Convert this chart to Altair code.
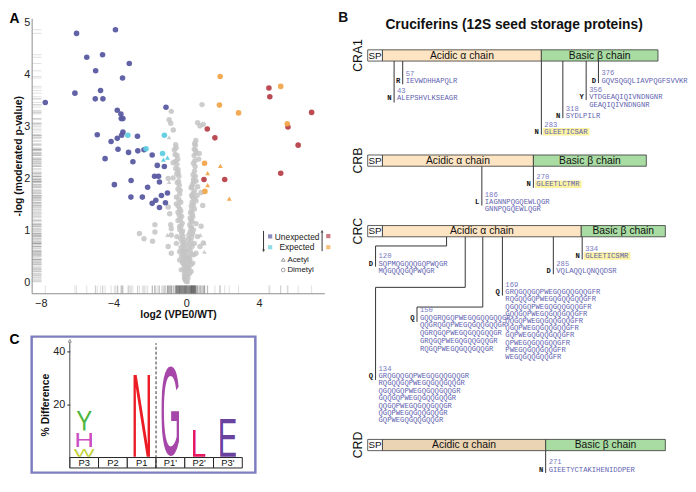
import base64
import altair as alt
import pandas as pd

SANS = "Liberation Sans"
MONO = "Liberation Mono"

# ===================== Panel A: volcano plot =====================
# (log2 VPE0/WT, -log moderated p-value)
unexpected_down = [
    (-6.03, 4.80), (-3.89, 4.87), (-5.47, 4.34), (-4.60, 4.39), (-3.13, 4.22),
    (-4.98, 4.08), (-3.50, 3.94), (-6.12, 3.65), (-4.71, 3.70), (-5.00, 3.54),
    (-4.58, 3.54), (-7.75, 3.47), (-3.79, 3.32), (-3.59, 3.25), (-3.57, 3.16),
    (-3.48, 3.16), (-1.11, 3.38), (-4.89, 2.85), (-3.48, 2.90), (-3.55, 2.84),
    (-3.79, 2.78), (-2.68, 2.82), (-4.13, 2.72), (-3.75, 2.57), (-4.46, 2.39),
    (-3.17, 2.51), (-2.93, 2.33), (-2.66, 2.54), (-2.32, 2.56), (-1.87, 2.46),
    (-1.59, 2.26), (-1.20, 2.24), (-1.74, 2.05), (-1.52, 2.05), (-1.47, 1.94),
    (-3.03, 1.97), (-3.95, 1.89), (-2.12, 1.84), (-3.04, 1.65), (-2.41, 1.65),
    (-1.67, 1.59), (-1.87, 1.53), (-1.36, 1.68), (-1.03, 1.73), (-1.47, 1.45),
    (-1.14, 1.54),
]
expected_down_dimethyl = [(-3.21, 2.84), (-2.21, 2.58), (-1.20, 2.84), (-1.30, 2.49)]
expected_down_acetyl = [(-1.25, 2.37), (-1.03, 2.41)]
unexpected_up = [
    (4.55, 3.75), (4.60, 3.58), (6.90, 3.28), (1.16, 2.96), (1.58, 2.79),
    (5.60, 3.00), (6.16, 2.65), (5.20, 2.11), (0.98, 1.99), (2.12, 1.99),
]
expected_up_dimethyl = [(1.87, 3.97), (5.20, 3.78), (1.83, 3.42), (2.88, 3.27),
                        (5.56, 3.06), (1.01, 2.30), (1.03, 1.76)]
expected_up_acetyl = [(1.88, 2.25), (1.18, 2.11), (1.18, 1.88), (2.37, 1.62)]
unchanged_acetyl = [(-0.94, 2.80), (-0.94, 1.94), (0.78, 0.92), (1.00, 0.76),
                    (1.00, 0.60), (-1.03, 0.92)]
unchanged_dimethyl = [
    (-0.82, 3.30), (-0.94, 3.14), (-0.85, 3.07), (-0.71, 2.94), (0.87, 3.43), (0.63, 3.08),
    (0.76, 3.02), (0.94, 3.05), (0.53, 2.74), (0.47, 2.68), (-0.58, 2.66), (-0.65, 2.56),
    (-0.61, 2.47), (0.45, 2.57), (0.54, 2.50), (0.72, 2.49), (0.69, 2.38), (0.49, 2.24),
    (-0.58, 2.34), (-0.51, 2.28), (-0.58, 2.20), (-0.99, 2.01), (-0.72, 2.02), (-0.49, 1.93),
    (0.40, 1.99), (0.54, 1.96), (0.36, 1.90), (0.63, 1.85), (0.27, 1.83), (0.45, 1.77),
    (-0.36, 1.71), (-0.54, 1.65), (0.60, 1.68), (0.82, 1.74), (-0.54, 1.52), (-0.99, 1.46),
    (-0.91, 1.33), (-0.45, 1.36), (0.36, 1.65), (0.54, 1.58), (0.45, 1.42), (0.91, 1.49),
    (0.36, 1.27), (0.54, 1.14), (0.82, 1.09), (-0.85, 1.12), (-0.82, 1.04), (-1.72, 1.12),
    (-1.72, 0.98), (-2.57, 0.95), (-2.32, 0.85), (-1.85, 0.80), (-0.82, 0.92), (-0.51, 0.89),
    (-0.99, 0.70), (-0.82, 0.57), (-0.54, 0.76), (-0.36, 0.44), (-0.27, 0.25), (-0.09, 0.09),
    (0.00, 0.03), (0.27, 0.22), (0.36, 0.38), (0.54, 0.57), (0.45, 0.76), (0.36, 0.95),
    (0.63, 0.89), (0.76, 0.70), (0.42, 0.54), (0.18, 0.44), (-0.18, 0.38), (-0.36, 0.60),
    (-0.15, 0.54), (0.09, 0.32), (-0.04, 0.19), (0.27, 1.08), (-0.36, 1.08), (-0.45, 1.20),
    (0.27, 1.20), (0.94, 0.77), (-0.72, 2.31), (-0.45, 2.18),
    (-0.55, 2.60), (-0.50, 2.45), (-0.47, 2.38), (-0.44, 2.12), (-0.40, 2.05), (-0.52, 2.10),
    (-0.42, 1.95), (-0.38, 1.88), (-0.45, 1.80), (-0.33, 1.78), (-0.40, 1.60), (-0.30, 1.55),
    (-0.44, 1.48), (-0.35, 1.42), (-0.30, 1.38), (-0.38, 1.30), (-0.25, 1.28), (-0.32, 1.22),
    (-0.22, 1.15), (-0.28, 1.10), (-0.35, 1.02), (-0.20, 1.00), (-0.25, 0.95), (-0.18, 0.90),
    (-0.30, 0.85), (-0.12, 0.82), (-0.22, 0.78), (-0.15, 0.72), (-0.28, 0.68), (-0.10, 0.65),
    (-0.20, 0.62), (-0.08, 0.58), (-0.25, 0.52), (-0.12, 0.50), (-0.15, 0.45), (-0.05, 0.42),
    (-0.20, 0.40), (-0.10, 0.35), (-0.02, 0.30), (-0.12, 0.28), (-0.06, 0.22), (-0.10, 0.15),
    (-0.03, 0.12), (-0.05, 0.06),
    (0.50, 2.65), (0.52, 2.55), (0.44, 2.45), (0.48, 2.35), (0.40, 2.30), (0.46, 2.15),
    (0.38, 2.08), (0.50, 2.05), (0.42, 1.95), (0.32, 1.85), (0.38, 1.72), (0.30, 1.68),
    (0.42, 1.62), (0.33, 1.55), (0.28, 1.48), (0.40, 1.50), (0.30, 1.40), (0.24, 1.35),
    (0.35, 1.32), (0.22, 1.25), (0.32, 1.18), (0.20, 1.12), (0.28, 1.05), (0.40, 1.02),
    (0.22, 0.98), (0.15, 0.92), (0.30, 0.88), (0.12, 0.84), (0.25, 0.80), (0.18, 0.74),
    (0.32, 0.70), (0.10, 0.66), (0.22, 0.62), (0.28, 0.55), (0.14, 0.52), (0.06, 0.48),
    (0.20, 0.46), (0.12, 0.40), (0.25, 0.35), (0.05, 0.36), (0.15, 0.28), (0.08, 0.25),
    (0.18, 0.18), (0.04, 0.15), (0.10, 0.10), (0.02, 0.05), (0.06, 0.02),
    (0.00, 0.45), (0.02, 0.60), (-0.02, 0.75), (0.00, 0.25), (-0.01, 0.15),
]

rows = []
for pts, grp, lab in [
    (unchanged_dimethyl, "Unchanged", "Dimetyl"), (unchanged_acetyl, "Unchanged", "Acetyl"),
    (unexpected_down, "Unexpected down", "Dimetyl"),
    (expected_down_dimethyl, "Expected down", "Dimetyl"), (expected_down_acetyl, "Expected down", "Acetyl"),
    (unexpected_up, "Unexpected up", "Dimetyl"),
    (expected_up_dimethyl, "Expected up", "Dimetyl"), (expected_up_acetyl, "Expected up", "Acetyl"),
]:
    for x, y in pts:
        rows.append({"x": x, "y": y, "group": grp, "label": lab})
dfA = pd.DataFrame(rows)

grp_dom = ["Unchanged", "Unexpected down", "Expected down", "Unexpected up", "Expected up"]
grp_rng = ["#c4c4c4", "#5a5aa2", "#5fcde0", "#b8424b", "#f2a54b"]

axA_x = alt.Axis(values=[-8, -4, 0, 4], title="log2 (VPE0/WT)", grid=False, ticks=False,
                 domainColor="#8c8c8c", labelFont=SANS, labelFontSize=11, labelColor="#222",
                 labelPadding=4, titleFont=SANS, titleFontSize=10.5, titleFontWeight="bold",
                 titleColor="#111", titlePadding=2)
axA_y = alt.Axis(values=[0, 1, 2, 3, 4, 5], title="-log (moderated p-value)", grid=False, ticks=False,
                 domainColor="#8c8c8c", labelFont=SANS, labelFontSize=11, labelColor="#222",
                 labelPadding=2, titleFont=SANS, titleFontSize=10.5, titleFontWeight="bold",
                 titleColor="#111", titlePadding=0)
xA = alt.X("x:Q", scale=alt.Scale(domain=[-8.5, 7.6], nice=False, zero=False), axis=axA_x)
yA = alt.Y("y:Q", scale=alt.Scale(domain=[-0.2, 5.09], nice=False, zero=False), axis=axA_y)
cA = alt.Color("group:N", scale=alt.Scale(domain=grp_dom, range=grp_rng), legend=None)


def pts_layer(expr, shape, size, opacity):
    return alt.Chart(dfA).transform_filter(expr).mark_point(
        shape=shape, filled=True, size=size, opacity=opacity, strokeWidth=0
    ).encode(x=xA, y=yA, color=cA)


def vtext(t, x, y, **kw):
    return alt.Chart(pd.DataFrame({"t": [t]})).mark_text(**kw).encode(
        x=alt.value(x), y=alt.value(y), text="t:N")


def vpoint(x, y, **kw):
    return alt.Chart(pd.DataFrame({"k": [0]})).mark_point(**kw).encode(x=alt.value(x), y=alt.value(y))


layersA = [
    pts_layer("datum.group == 'Unchanged' && datum.label == 'Dimetyl'", "circle", 30, 0.85),
    pts_layer("datum.group == 'Unchanged' && datum.label == 'Acetyl'", "triangle-up", 22, 0.85),
    alt.Chart(dfA).mark_tick(orient="horizontal", size=9, thickness=1, color="#555", opacity=0.18)
    .encode(y=yA, x=alt.value(5.5)),
    alt.Chart(dfA).mark_tick(orient="vertical", size=8, thickness=1, color="#555", opacity=0.18)
    .encode(x=xA, y=alt.value(275)),
    pts_layer("datum.group != 'Unchanged' && datum.label == 'Dimetyl'", "circle", 32, 0.95),
    pts_layer("datum.group != 'Unchanged' && datum.label == 'Acetyl'", "triangle-up", 24, 0.95),
    # legend
    alt.Chart(pd.DataFrame({"k": [0]})).mark_rule(color="#333", strokeWidth=1)
    .encode(x=alt.value(235.3), y=alt.value(215.7), y2=alt.value(235.5)),
    alt.Chart(pd.DataFrame({"k": [0]})).mark_rule(color="#333", strokeWidth=1)
    .encode(x=alt.value(294.7), y=alt.value(216.5), y2=alt.value(236.3)),
    vpoint(235.3, 236.0, shape="triangle-down", filled=True, size=10, color="#222", strokeWidth=0),
    vpoint(294.7, 216.0, shape="triangle-up", filled=True, size=10, color="#222", strokeWidth=0),
    vpoint(242, 221.3, shape="square", filled=True, size=18, color="#5a5aa2", strokeWidth=0),
    vpoint(301, 221.0, shape="square", filled=True, size=18, color="#b8424b", strokeWidth=0),
    vpoint(242, 232.3, shape="square", filled=True, size=18, color="#5fcde0", strokeWidth=0),
    vpoint(301, 232.3, shape="square", filled=True, size=18, color="#f2a54b", strokeWidth=0),
    vtext("Unexpected", 269.4, 221.5, font=SANS, fontSize=8.5, color="#222"),
    vtext("Expected", 269.2, 232.3, font=SANS, fontSize=8.5, color="#222"),
    vpoint(255.3, 244.9, shape="triangle-up", filled=False, size=14, color="#555", strokeWidth=0.8),
    vpoint(255.3, 255.4, shape="circle", filled=False, size=14, color="#555", strokeWidth=0.8),
    vtext("Acetyl", 259.5, 244.9, font=SANS, fontSize=8, color="#222", align="left"),
    vtext("Dimetyl", 259.5, 255.4, font=SANS, fontSize=8, color="#222", align="left"),
    vtext("A", -17.5, 0.3, font=SANS, fontSize=14, fontWeight="bold", color="#000"),
]
chartA = alt.layer(*layersA).properties(width=297, height=279)

# ===================== Panel C: sequence logo =====================
positions = ["P3", "P2", "P1", "P1'", "P2'", "P3'"]
logo_position = ["P3", "P3", "P3", "P1", "P1'", "P2'", "P3'"]
logo_residue = ["W", "H", "Y", "N", "G", "L", "E"]
logo_pct_difference = [2.9, 5.6, 8.0, 32.2, 36.0, 10.3, 15.0]

residue_color = {"W": "#c4d23a", "H": "#cc4fc4", "Y": "#4cb640", "N": "#ec1c24",
                 "G": "#a646a8", "L": "#e6195e", "E": "#6a42a0"}
letter_width = {"W": 0.72, "H": 0.55, "Y": 0.55, "N": 0.59, "G": 0.63, "L": 0.45, "E": 0.55}
# glyph ink box in a 100-unit font: left bearing, ink width, top, bottom
glyph_box = {"N": (7.6, 57.0, -71.6, 0.0), "Y": (0.3, 66.0, -71.6, 0.0),
             "H": (8.0, 56.2, -71.6, 0.0), "W": (0.5, 93.5, -71.6, 0.0),
             "G": (4.8, 67.0, -73.6, 1.4), "L": (7.3, 45.0, -71.6, 0.0),
             "E": (7.9, 53.3, -71.6, 0.0)}


def glyph_url(ch):
    lsb, ink, top, bot = glyph_box[ch]
    svg = (f'<svg xmlns="http://www.w3.org/2000/svg" width="{ink}" height="{bot - top}" '
           f'viewBox="{lsb} {top} {ink} {bot - top}" preserveAspectRatio="none">'
           f'<text x="0" y="0" font-family="Liberation Sans, Arial, sans-serif" font-size="100" '
           f'fill="{residue_color[ch]}">{ch}</text></svg>')
    return "data:image/svg+xml;base64," + base64.b64encode(svg.encode()).decode()


logo_rows = []
stack_top = {}
for pos, res, pct in zip(logo_position, logo_residue, logo_pct_difference):
    i = positions.index(pos)
    lo = stack_top.get(pos, 0.3)
    hi = lo + pct
    stack_top[pos] = hi + 0.7
    w = letter_width[res]
    logo_rows.append({"x0": i + 0.5 - w / 2, "x1": i + 0.5 + w / 2, "lo": lo, "hi": hi,
                      "url": glyph_url(res), "res": res})
dfLogo = pd.DataFrame(logo_rows)
dfBoxes = pd.DataFrame({"b0": list(range(6)), "b1": [i + 1 for i in range(6)],
                        "bc": [i + 0.5 for i in range(6)], "pos": positions,
                        "ylo": [-3.95] * 6, "yhi": [0.0] * 6, "ym": [-2.0] * 6})
dfAxisLines = pd.DataFrame({"lx": [0.0, 3.0], "ly0": [-3.95, -3.95], "ly1": [43.6, 43.3],
                            "kind": ["axis", "divider"]})
dfArrow = pd.DataFrame({"ax": [0.0], "ay": [44.2]})

xsC = alt.Scale(domain=[-1.327, 6.455], nice=False, zero=False)
ysC = alt.Scale(domain=[-5.71, 45.78], nice=False, zero=False)
axC_y = alt.Axis(values=[20, 40], offset=-38.7, domain=False, grid=False, tickSize=3,
                 tickColor="#222", labelFont=SANS, labelFontSize=11, labelColor="#222",
                 labelPadding=2, title="% Difference", titleFont=SANS, titleFontSize=10.5,
                 titleFontWeight="bold", titleColor="#111", titlePadding=2)


def cx(f):
    return alt.X(f, type="quantitative", scale=xsC, axis=None)


def cy(f):
    return alt.Y(f, type="quantitative", scale=ysC, axis=axC_y)


layersC = [
    alt.Chart(dfBoxes).mark_rect(fill="white", stroke="#222", strokeWidth=1)
    .encode(x=cx("b0"), x2="b1", y=cy("ylo"), y2="yhi"),
    alt.Chart(dfBoxes).mark_text(font=SANS, fontSize=9.5, color="#111")
    .encode(x=cx("bc"), y=cy("ym"), text="pos:N"),
    alt.Chart(dfAxisLines).transform_filter("datum.kind == 'axis'")
    .mark_rule(color="#444", strokeWidth=1)
    .encode(x=cx("lx"), y=cy("ly0"), y2="ly1"),
    alt.Chart(dfAxisLines).transform_filter("datum.kind == 'divider'")
    .mark_rule(color="#333", strokeWidth=1, strokeDash=[3, 2])
    .encode(x=cx("lx"), y=cy("ly0"), y2="ly1"),
    alt.Chart(dfArrow).mark_point(shape="triangle-up", filled=False, size=10, color="#444",
                                  strokeWidth=0.8)
    .encode(x=cx("ax"), y=cy("ay")),
    alt.Chart(dfLogo).mark_image(aspect=False)
    .encode(x=cx("x0"), x2="x1", y=cy("lo"), y2="hi", url="url:N"),
    vtext("C", -17.5, 3.5, font=SANS, fontSize=14, fontWeight="bold", color="#000"),
]
chartC = alt.layer(*layersC).properties(
    width=227, height=138, view=alt.ViewBackground(stroke="#7d7dbf", strokeWidth=2.5))

# ===================== Panel B: cruciferin diagrams =====================
proteins = ["CRA1", "CRB", "CRC", "CRD"]
signal_peptide_end = [24, 24, 24, 24]
alpha_chain_end = [283, 270, 348, 290]
protein_end = [473, 454, 485, 485]

site_protein = ["CRA1"] * 6 + ["CRB"] * 2 + ["CRC"] * 6 + ["CRD"]
site_residue = [43, 57, 283, 318, 356, 376, 270, 186, 334, 285, 169, 150, 120, 134, 271]
site_previous = ["N", "R", "N", "N", "Y", "D", "N", "L", "N", "D", "Q", "Q", "D", "Q", "N"]
site_neo_terminus = [0, 0, 1, 0, 0, 0, 1, 0, 1, 0, 0, 0, 0, 0, 0]
site_peptides = [
    ["ALEPSHVLKSEAGR"],
    ["IEVWDHHAPQLR"],
    ["GLEETICSAR"],
    ["SYDLPILR"],
    ["VTDGEAQIQIVNDNGNR", "GEAQIQIVNDNGNR"],
    ["GQVSQGQLIAVPQGFSVVKR"],
    ["GLEETLCTMR"],
    ["IAGNNPQGQEWLQGR", "GNNPQGQEWLQGR"],
    ["GLEETICSMR"],
    ["VQLAQQLQNQQDSR"],
    ["GRQGQQGQPWEGQGQQGQQGFR", "RQGQQGQPWEGQGQQGQQGFR", "QGQQGQPWEGQGQQGQQGFR",
     "GQQGQPWEGQGQQGQQGFR", "QQGQPWEGQGQQGQQGFR", "QGQPWEGQGQQGQQGFR",
     "GQPWEGQGQQGQQGFR", "QPWEGQGQQGQQGFR", "PWEGQGQQGQQGFR", "WEGQGQQGQQGFR"],
    ["GQQGRQGQPWEGQGQQGQQGR", "QQGRQGQPWEGQGQQGQQGR", "QGRQGQPWEGQGQQGQQGR",
     "GRQGQPWEGQGQQGQQGR", "RQGQPWEGQGQQGQQGR"],
    ["SQPMQGQQQGQPWQGR", "MQGQQQGQPWQGR"],
    ["GRQGQQGQPWEGQGQQGQQGR", "RQGQQGQPWEGQGQQGQQGR", "QGQQGQPWEGQGQQGQQGR",
     "GQQGQPWEGQGQQGQQGR", "QQGQPWEGQGQQGQQGR", "QGQPWEGQGQQGQQGR", "GQPWEGQGQQGQQGR"],
    ["GIEETYCTAKIHENIDDPER"],
]

# diagram layout (not data): row tops, where each site is drawn, and label placement
row_top = [39.0, 145.7, 217.3, 434.3]
BAR_H = 11.4
site_draw_x = [43, 57, 283, 318, 356, 376, 270, 186, 349.5, 302.5, 219.5, 187.5, 128.5, 158.9, 290]
site_label_x = [43, 57, 283, 318, 356, 376, 270, 186, 349.5, 302.5, 219.5, 80.3, 12.8, 12.8, 290]
site_elbow_y = [None] * 11 + [300.0, 238.0, 280.0, None]
site_seq_y = [88.3, 70.7, 122.3, 106.0, 87.3, 70.3, 175.5, 193.3, 248.3, 263.3, 285.0, 310.7, 256.0, 370.0, 465.0]
site_seq_step = [0, 0, 0, 0, 7.3, 0, 0, 7.3, 0, 0, 7.3, 8.0, 7.3, 7.5, 0]
site_line_end = [92.5, 74.0, 125.0, 108.3, 90.0, 72.7, 179.0, 197.0, 251.7, 266.7, 288.3, 315.0, 259.0, 374.0, 468.3]
NUM_GAP = 7.4

PX_PER_RES = 302 / 485.0
CHAR_W = 0.6 * 7.3

bar_rows, bar_text = [], []
acid_kind = ["acidic", "acidic", "acidic", "acidic2"]
for k, p in enumerate(proteins):
    t = row_top[k]
    segs = [(0, signal_peptide_end[k], "sp", "SP"),
            (signal_peptide_end[k], alpha_chain_end[k], acid_kind[k], "Acidic α chain"),
            (alpha_chain_end[k], protein_end[k], "basic", "Basic β chain")]
    for s0, s1, kind, lab in segs:
        bar_rows.append({"s0": s0, "s1": s1, "t0": t, "t1": t + BAR_H, "kind": kind})
        bar_text.append({"xc": (s0 + s1) / 2, "yc": t + BAR_H / 2 + 0.3, "lab": lab})
dfBars = pd.DataFrame(bar_rows)
dfBarText = pd.DataFrame(bar_text)
dfProt = pd.DataFrame({"p": proteins, "xp": [-15.5] * 4,
                       "yp": [t + BAR_H / 2 for t in row_top]})

NBSP = "\u00a0"
seg_rows, seq_rows, num_rows, prev_rows, hl_rows = [], [], [], [], []
for k in range(len(site_residue)):
    pk = proteins.index(site_protein[k])
    bottom = row_top[pk] + BAR_H
    xd, xl = site_draw_x[k], site_label_x[k]
    ey = site_elbow_y[k]
    if ey is None:
        seg_rows.append({"a": xd, "b": xd, "c": bottom, "d": site_line_end[k]})
    else:
        seg_rows.append({"a": xd, "b": xd, "c": bottom, "d": ey})
        seg_rows.append({"a": xl, "b": xd, "c": ey, "d": ey})
        seg_rows.append({"a": xl, "b": xl, "c": ey, "d": site_line_end[k]})
    peps = site_peptides[k]
    longest = max(len(s) for s in peps)
    for j, s in enumerate(peps):
        seq_rows.append({"xs": xl, "ys": site_seq_y[k] + j * site_seq_step[k],
                         "s": NBSP * (longest - len(s)) + s})
    num_rows.append({"xs": xl, "ys": site_seq_y[k] - NUM_GAP, "s": str(site_residue[k])})
    prev_rows.append({"xs": xl, "ys": site_seq_y[k], "s": site_previous[k]})
    if site_neo_terminus[k]:
        wres = (len(peps[0]) * CHAR_W + 3.5) / PX_PER_RES
        hl_rows.append({"h0": xl + 1.6 / PX_PER_RES, "h1": xl + 1.6 / PX_PER_RES + wres,
                        "v0": site_seq_y[k] - 3.9, "v1": site_seq_y[k] + 3.6})
dfSeg = pd.DataFrame(seg_rows)
dfSeq = pd.DataFrame(seq_rows)
dfNum = pd.DataFrame(num_rows)
dfPrev = pd.DataFrame(prev_rows)
dfHl = pd.DataFrame(hl_rows)

xsB = alt.Scale(domain=[0, 485], nice=False, zero=False)
ysB = alt.Scale(domain=[7, 468], nice=False, zero=False, reverse=True)


def bx(f):
    return alt.X(f, type="quantitative", scale=xsB, axis=None)


def by(f):
    return alt.Y(f, type="quantitative", scale=ysB, axis=None)


dfTitle = pd.DataFrame({"t": ["Cruciferins (12S seed storage proteins)", "B"],
                        "xt": [238.5, -40.0], "yt": [14.0, 7.0]})

bar_fill = alt.Color("kind:N", legend=None,
                     scale=alt.Scale(domain=["sp", "acidic", "acidic2", "basic"],
                                     range=["#ffffff", "#fde4c3", "#ead4b4", "#a9dca3"]))

layersB = [
    alt.Chart(dfBars).mark_rect(stroke="#333", strokeWidth=0.8)
    .encode(x=bx("s0"), x2="s1", y=by("t0"), y2="t1", fill=bar_fill),
    alt.Chart(dfBarText).transform_filter("datum.lab == 'SP'")
    .mark_text(font=SANS, color="#111", fontSize=10)
    .encode(x=bx("xc"), y=by("yc"), text="lab:N"),
    alt.Chart(dfBarText).transform_filter("datum.lab != 'SP'")
    .mark_text(font=SANS, color="#111", fontSize=10.5)
    .encode(x=bx("xc"), y=by("yc"), text="lab:N"),
    alt.Chart(dfProt).mark_text(font=SANS, fontSize=12.5, angle=270, color="#111")
    .encode(x=bx("xp"), y=by("yp"), text="p:N"),
    alt.Chart(dfTitle).mark_text(font=SANS, fontWeight="bold", color="#111", fontSize=14)
    .encode(x=bx("xt"), y=by("yt"), text="t:N"),
    alt.Chart(dfHl).mark_rect(fill="#fbf2a2")
    .encode(x=bx("h0"), x2="h1", y=by("v0"), y2="v1"),
    alt.Chart(dfSeg).mark_rule(color="#333", strokeWidth=1)
    .encode(x=bx("a"), x2="b", y=by("c"), y2="d"),
    alt.Chart(dfSeq).mark_text(font=MONO, fontSize=7.3, align="left", dx=3, color="#5f5fb0")
    .encode(x=bx("xs"), y=by("ys"), text="s:N"),
    alt.Chart(dfNum).mark_text(font=MONO, fontSize=7.3, align="left", dx=3, color="#7878c0")
    .encode(x=bx("xs"), y=by("ys"), text="s:N"),
    alt.Chart(dfPrev).mark_text(font=MONO, fontSize=7.3, fontWeight="bold", align="right",
                                dx=-2.5, color="#111")
    .encode(x=bx("xs"), y=by("ys"), text="s:N"),
]
chartB = alt.layer(*layersB).properties(width=302, height=461)

left = alt.vconcat(chartA, chartC, spacing=44, bounds="flush")
chart = alt.hconcat(left, chartB, spacing=7, bounds="full").properties(
    padding=0, background="white"
).configure_view(strokeWidth=0)

chart.save("out.html", embed_options={"renderer": "svg", "actions": False})
